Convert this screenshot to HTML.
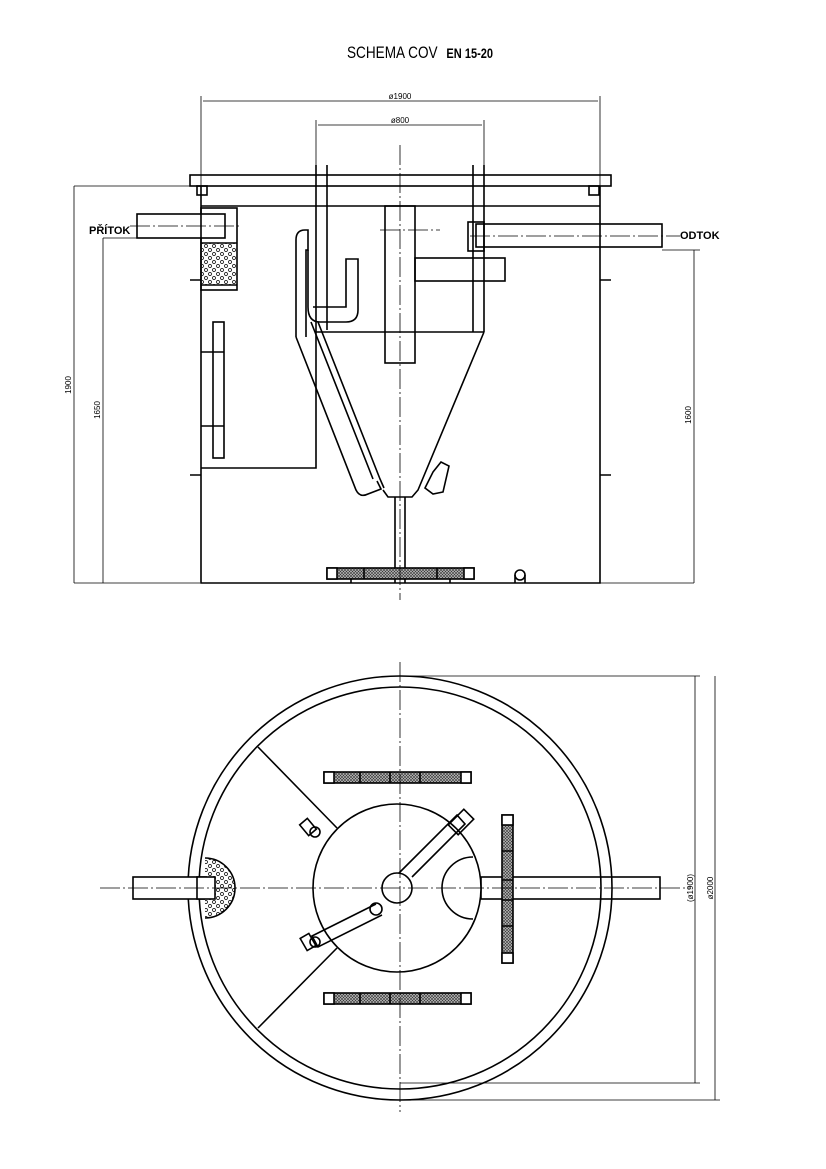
<!DOCTYPE html>
<html><head><meta charset="utf-8"><style>body{margin:0;background:#fff}svg{display:block}</style></head><body>
<svg width="826" height="1169" viewBox="0 0 826 1169" xmlns="http://www.w3.org/2000/svg" font-family="Liberation Sans, sans-serif">
<defs>
<pattern id="x" width="3" height="3" patternUnits="userSpaceOnUse"><rect width="3" height="3" fill="#bbb"/><path d="M0 0L3 3M3 0L0 3" stroke="#333" stroke-width="0.6"/></pattern>
<pattern id="d" width="8" height="8" patternUnits="userSpaceOnUse"><rect width="8" height="8" fill="#fff"/><circle cx="2" cy="2" r="1.5" fill="none" stroke="#000" stroke-width="0.7"/><circle cx="6" cy="6" r="1.5" fill="none" stroke="#000" stroke-width="0.7"/></pattern>
</defs>
<text x="0" y="0" font-size="16" transform="translate(347,58) scale(0.85,1.05)">SCHEMA COV <tspan font-size="13" font-weight="bold" dx="6">EN 15-20</tspan></text>
<g fill="none" stroke="#000" stroke-width="1.6">
<rect x="190" y="175" width="421" height="11" fill="#fff"/>
<rect x="197" y="186" width="10" height="9"/><rect x="589" y="186" width="10" height="9"/>
<path d="M201 186V583H600V186"/>
<path d="M201 206H600"/>
<path d="M190 280H201M190 475H201M600 280H611M600 475H611"/>
<path d="M316 165V468H201"/>
<path d="M327 165V330"/>
<path d="M473 165V332M484 165V332"/>
<path d="M316 332H484"/>
<path d="M484 332L418 490L412 497H388L383 490"/>
<path d="M296 337L356 490Q360 498 368 494L381 489L377 481"/>
<path d="M311 322L373 479M318 322L380 479L384 488"/>
<path d="M296 337V240Q296 230 305 230H308V250H306V337"/>
<path d="M308 250V307Q308 322 320 322H346Q358 322 358 310V259H346V307H313"/>
<path d="M433 472L441 462L449 466L443 492L433 494L425 488Z"/>
<rect x="385" y="206" width="30" height="157"/>
<rect x="415" y="258" width="90" height="23"/>
<rect x="468" y="222" width="16" height="29"/>
<rect x="476" y="224" width="186" height="23"/>
<rect x="137" y="214" width="88" height="24" fill="#fff"/>
<rect x="201" y="208" width="36" height="82"/>
<rect x="202" y="243" width="34" height="42" fill="url(#d)" stroke="none"/>
<path d="M201 243H237M201 285H237"/>
<rect x="213" y="322" width="11" height="136"/>
<path d="M201 352H224M201 426H224"/>
<path d="M395 497V583M405 497V583"/>
<rect x="327" y="568" width="147" height="11" fill="url(#x)"/>
<rect x="327" y="568" width="10" height="11" fill="#fff"/><rect x="464" y="568" width="10" height="11" fill="#fff"/>
<path d="M364 568V579M437 568V579M351 579V583M450 579V583"/>
<circle cx="520" cy="575" r="5"/><path d="M515 583V575M525 583V575"/>
</g>
<g fill="none" stroke="#000" stroke-width="0.8">
<path d="M400 145V600M380 230H440" stroke-dasharray="20 3 2 3"/>
<path d="M130 226H240M470 236H680" stroke-dasharray="20 3 2 3"/>
<path d="M201 96V186M600 96V186M316 120V165M484 120V165"/>
<path d="M203 101H598M318 125H482"/>
<path d="M74 186H190M74 186V583M103 238H137M103 238V583M74 583H200M600 583H694M694 250V583M662 250H700"/>
</g>
<g font-size="8" fill="#000">
<text x="400" y="99" text-anchor="middle">ø1900</text>
<text x="400" y="123" text-anchor="middle">ø800</text>
<text transform="translate(71,385) rotate(-90)" text-anchor="middle">1900</text>
<text transform="translate(100,410) rotate(-90)" text-anchor="middle">1650</text>
<text transform="translate(691,415) rotate(-90)" text-anchor="middle">1600</text>
<text transform="translate(693,888) rotate(-90)" text-anchor="middle">(ø1900)</text>
<text transform="translate(713,888) rotate(-90)" text-anchor="middle">ø2000</text>
</g>
<text x="89" y="234" font-size="11" font-weight="bold">PŘÍTOK</text>
<text x="680" y="239" font-size="11" font-weight="bold">ODTOK</text>
<g fill="none" stroke="#000" stroke-width="1.6">
<circle cx="400" cy="888" r="212"/>
<circle cx="400" cy="888" r="201"/>
<path d="M258 747L337 828M258 1028L337 948"/>
<rect x="133" y="877" width="82" height="22" fill="#fff"/>
<path d="M205 858A30 30 0 0 1 205 918" fill="url(#d)"/>
<rect x="197" y="877" width="18" height="22" fill="#fff"/>
<rect x="481" y="877" width="179" height="22"/>
<circle cx="397" cy="888" r="84" fill="#fff"/>
<path d="M473 857A30 30 0 0 0 473 919"/>
<path d="M399 873L457 815L465 824L412 877"/>
<rect x="450" y="815" width="22" height="14" transform="rotate(-45 461 822)"/>
<circle cx="397" cy="888" r="15"/>
<path d="M376 904L312 936L318 947L382 915"/>
<circle cx="376" cy="909" r="6"/>
<circle cx="315" cy="942" r="5"/>
<rect x="303" y="935" width="10" height="14" transform="rotate(-30 308 942)"/>
<rect x="303" y="820" width="10" height="14" transform="rotate(-40 308 827)"/>
<circle cx="315" cy="832" r="5"/>
<rect x="324" y="772" width="147" height="11" fill="url(#x)"/>
<rect x="324" y="993" width="147" height="11" fill="url(#x)"/>
<rect x="324" y="772" width="10" height="11" fill="#fff"/><rect x="461" y="772" width="10" height="11" fill="#fff"/>
<rect x="324" y="993" width="10" height="11" fill="#fff"/><rect x="461" y="993" width="10" height="11" fill="#fff"/>
<path d="M360 772V783M390 772V783M420 772V783M360 993V1004M390 993V1004M420 993V1004"/>
<rect x="502" y="815" width="11" height="148" fill="url(#x)"/>
<rect x="502" y="815" width="11" height="10" fill="#fff"/><rect x="502" y="953" width="11" height="10" fill="#fff"/>
<path d="M502 851H513M502 880H513M502 900H513M502 926H513"/>
</g>
<g fill="none" stroke="#000" stroke-width="0.8">
<path d="M400 662V1112M100 888H690" stroke-dasharray="20 3 2 3"/>
<path d="M400 676H700M400 1083H700M400 1100H720M695 676V1083M715 676V1100"/>
</g>
</svg>
</body></html>
